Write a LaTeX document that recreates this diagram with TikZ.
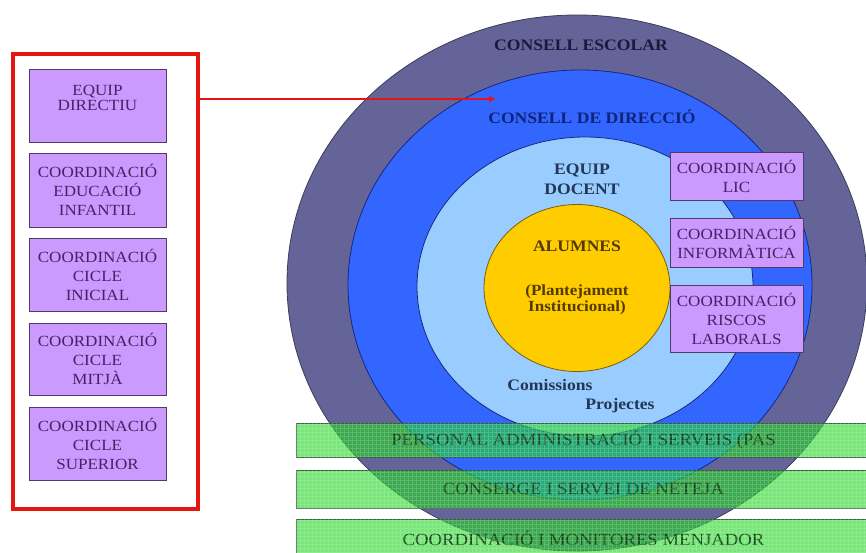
\documentclass[tikz,border=0pt]{standalone}
\usepackage{fontspec}
\setmainfont[FakeStretch=1.1]{Liberation Serif}
\usetikzlibrary{shapes.geometric,arrows.meta}
\definecolor{cOuter}{RGB}{100,100,152}
\definecolor{cOuterD}{RGB}{60,60,90}
\definecolor{cBlue}{RGB}{51,102,255}
\definecolor{cBlueD}{RGB}{20,40,130}
\definecolor{cLight}{RGB}{153,204,255}
\definecolor{cYellow}{RGB}{255,204,0}
\definecolor{cYellowD}{RGB}{120,95,10}
\definecolor{pfill}{RGB}{204,153,255}
\definecolor{pborder}{RGB}{80,60,100}
\definecolor{ptext}{RGB}{70,35,100}
\definecolor{barfill}{RGB}{34,214,34}
\definecolor{barborder}{RGB}{50,90,60}
\definecolor{bartext}{RGB}{20,70,25}
\definecolor{navyA}{RGB}{25,25,60}
\definecolor{navyB}{RGB}{15,35,120}
\definecolor{slate}{RGB}{35,55,85}
\definecolor{brownA}{RGB}{80,60,0}
\definecolor{redA}{RGB}{232,20,20}
\begin{document}
\begin{tikzpicture}[x=1pt,y=-1pt,
  ring/.style={ellipse, inner sep=0pt, line width=0.8pt},
  pbox/.style={draw=pborder, line width=0.8pt, fill=pfill, inner sep=0pt, align=center, text=ptext, font=\fontsize{15.5}{19}\selectfont},
  lbox/.style={pbox, minimum width=137pt},
  rbox/.style={pbox, minimum width=133pt},
  bar/.style={draw=barborder, line width=1pt, fill=barfill, fill opacity=0.61, text opacity=1, draw opacity=0.9,
    minimum width=574pt, inner sep=0pt, anchor=west, text=bartext, font=\fontsize{17}{19}\selectfont},
  bargrid/.style={draw=white, line width=0.4pt, opacity=0.18},
  lbl/.style={font=\bfseries\fontsize{16}{20}\selectfont, align=center},
  redbox/.style={draw=redA, line width=4pt},
  redline/.style={draw=redA, line width=2.5pt}
]
\useasboundingbox (0,0) rectangle (866,552);
\fill[white] (0,0) rectangle (866,552);

% rings
\node[ring, draw=cOuterD, fill=cOuter, minimum width=580pt, minimum height=536pt] (escolar) at (577,283) {};
\node[ring, draw=cBlueD, fill=cBlue, minimum width=464pt, minimum height=430pt] (direccio) at (580,285) {};
\node[ring, draw=cBlueD, fill=cLight, minimum width=336pt, minimum height=299pt] (docent) at (585,286.5) {};
\node[ring, draw=cYellowD, fill=cYellow, minimum width=186pt, minimum height=167pt] (alumnes) at (577,288) {};

% ring labels
\node[lbl, text=navyA] (tEscolar) at (581,45) {CONSELL ESCOLAR};
\node[lbl, text=navyB] (tDireccio) at (592,117) {CONSELL DE DIRECCIÓ};
\node[lbl, text=slate] (tDocent) at (582,179) {EQUIP\\DOCENT};
\node[lbl, text=brownA] (tAlumnes) at (577,246) {ALUMNES};
\node[lbl, text=brownA, font=\bfseries\fontsize{15.5}{16}\selectfont] (tPlant) at (577,300) {(Plantejament\\Institucional)};
\node[lbl, text=slate] (tCom) at (550,385) {Comissions};
\node[lbl, text=slate] (tProj) at (620,406) {Projectes};

% right boxes
\node[rbox, minimum height=48pt] (lic) at (736.5,176) {COORDINACIÓ\\LIC};
\node[rbox, minimum height=49pt] (info) at (736.5,242.5) {COORDINACIÓ\\INFORMÀTICA};
\node[rbox, minimum height=67pt] (riscos) at (736.5,318.5) {COORDINACIÓ\\RISCOS\\LABORALS};

% green bars
\node[bar, minimum height=34pt] (pas) at (296,440) {PERSONAL ADMINISTRACIÓ I SERVEIS (PAS};
\node[bar, minimum height=38pt] (conserge) at (296,489) {CONSERGE I SERVEI DE NETEJA};
\node[bar, minimum height=38pt] (menjador) at (296,538) {COORDINACIÓ I MONITORES MENJADOR};
\draw[bargrid] (pas.south west) grid[step=4pt] (pas.north east);
\draw[bargrid] (conserge.south west) grid[step=4pt] (conserge.north east);
\draw[bargrid] (menjador.south west) grid[step=4pt] (menjador.north east);

% left group
\node[redbox, minimum width=185pt, minimum height=455pt, inner sep=0pt] (group) at (105.5,281) {};
\node[lbox, minimum height=73pt] (equip) at (97.5,105.5) {EQUIP\\[-4pt]DIRECTIU\\[-4pt]\mbox{}};
\node[lbox, minimum height=74pt] (infantil) at (97.5,190) {COORDINACIÓ\\EDUCACIÓ\\INFANTIL};
\node[lbox, minimum height=73pt] (inicial) at (97.5,274.5) {COORDINACIÓ\\CICLE\\INICIAL};
\node[lbox, minimum height=72pt] (mitja) at (97.5,359) {COORDINACIÓ\\CICLE\\MITJÀ};
\node[lbox, minimum height=73pt] (superior) at (97.5,443.5) {COORDINACIÓ\\CICLE\\SUPERIOR};

% arrow
\coordinate (tip) at (496,99);
\draw[redline, -{Latex[length=7pt,width=7pt]}] (group.east |- tip) -- (tip);
\end{tikzpicture}
\end{document}
